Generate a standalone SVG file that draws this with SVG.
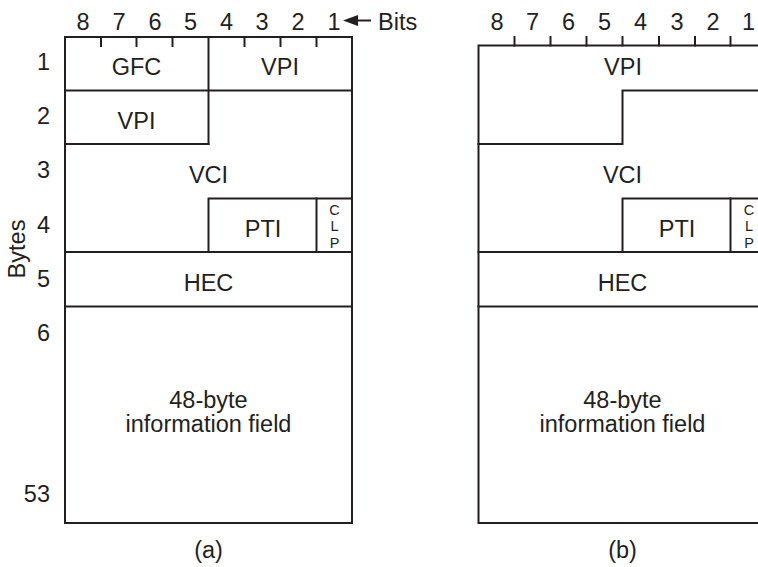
<svg xmlns="http://www.w3.org/2000/svg" width="758" height="567" viewBox="0 0 758 567">
<style>
  .ln { stroke: #231f20; stroke-width: 2; fill: none; stroke-linecap: square; }
  .t { font-family: "Liberation Sans", Arial, sans-serif; font-size: 23.5px; fill: #231f20; text-anchor: middle; }
  .r { font-family: "Liberation Sans", Arial, sans-serif; font-size: 23.5px; fill: #231f20; text-anchor: end; }
  .s { font-family: "Liberation Sans", Arial, sans-serif; font-size: 14.5px; fill: #231f20; text-anchor: middle; }
</style>
<rect width="758" height="567" fill="#ffffff"/>

<!-- Axis labels -->
<g id="bit-numbers-a">
  <text class="t" x="83" y="30">8</text>
  <text class="t" x="119" y="30">7</text>
  <text class="t" x="155" y="30">6</text>
  <text class="t" x="190.5" y="30">5</text>
  <text class="t" x="226.5" y="30">4</text>
  <text class="t" x="262" y="30">3</text>
  <text class="t" x="298" y="30">2</text>
  <text class="t" x="334" y="30">1</text>
</g>
<g id="bits-label">
  <line class="ln" x1="355" y1="20.5" x2="370" y2="20.5"/>
  <polygon points="343,20.5 358,15 358,26" fill="#231f20"/>
  <text x="378" y="30" style="font-family:'Liberation Sans',Arial,sans-serif;font-size:23.5px;fill:#231f20">Bits</text>
</g>
<g id="byte-numbers">
  <text class="r" x="50" y="70">1</text>
  <text class="r" x="50" y="124">2</text>
  <text class="r" x="50" y="178">3</text>
  <text class="r" x="50" y="233">4</text>
  <text class="r" x="50" y="287">5</text>
  <text class="r" x="50" y="341">6</text>
  <text class="r" x="50" y="502">53</text>
  <text class="t" transform="translate(25,249) rotate(-90)">Bytes</text>
</g>

<!-- Diagram (a) -->
<g id="cell-a">
  <rect class="ln" x="65" y="37" width="287" height="486"/>
  <g id="ticks-a">
    <line class="ln" x1="101" y1="37" x2="101" y2="46"/>
    <line class="ln" x1="136.5" y1="37" x2="136.5" y2="46"/>
    <line class="ln" x1="172.5" y1="37" x2="172.5" y2="46"/>
    <line class="ln" x1="244.5" y1="37" x2="244.5" y2="46"/>
    <line class="ln" x1="280.5" y1="37" x2="280.5" y2="46"/>
    <line class="ln" x1="316.5" y1="37" x2="316.5" y2="46"/>
  </g>
  <g id="a-gfc">
    <line class="ln" x1="208.5" y1="37" x2="208.5" y2="144"/>
    <line class="ln" x1="65" y1="90.5" x2="352" y2="90.5"/>
    <text class="t" x="136.5" y="75">GFC</text>
  </g>
  <g id="a-vpi1"><text class="t" x="280" y="75">VPI</text></g>
  <g id="a-vpi2">
    <line class="ln" x1="65" y1="144" x2="208.5" y2="144"/>
    <text class="t" x="136.5" y="129">VPI</text>
  </g>
  <g id="a-vci"><text class="t" x="208.5" y="183">VCI</text></g>
  <g id="a-pti">
    <polyline class="ln" points="208.5,252 208.5,198.5 352,198.5"/>
    <text class="t" x="263" y="237">PTI</text>
  </g>
  <g id="a-clp">
    <line class="ln" x1="316.5" y1="198.5" x2="316.5" y2="252"/>
    <text class="s"><tspan x="334.5" y="214.5">C</tspan><tspan x="334.5" y="231">L</tspan><tspan x="334.5" y="247.5">P</tspan></text>
  </g>
  <g id="a-hec">
    <line class="ln" x1="65" y1="252" x2="352" y2="252"/>
    <line class="ln" x1="65" y1="306.5" x2="352" y2="306.5"/>
    <text class="t" x="208.5" y="291">HEC</text>
  </g>
  <g id="a-info">
    <text class="t" x="208.5" y="408">48-byte</text>
    <text class="t" x="208.5" y="432">information field</text>
  </g>
  <text class="t" x="208.5" y="558">(a)</text>
</g>

<!-- Diagram (b) -->
<g id="bit-numbers-b">
  <text class="t" x="497" y="30">8</text>
  <text class="t" x="532.5" y="30">7</text>
  <text class="t" x="568.5" y="30">6</text>
  <text class="t" x="604.5" y="30">5</text>
  <text class="t" x="640.5" y="30">4</text>
  <text class="t" x="677" y="30">3</text>
  <text class="t" x="713" y="30">2</text>
  <text class="t" x="748.5" y="30">1</text>
</g>
<g id="cell-b">
  <rect class="ln" x="478.5" y="45.5" width="288" height="477.5"/>
  <g id="ticks-b">
    <line class="ln" x1="514.5" y1="37" x2="514.5" y2="45.5"/>
    <line class="ln" x1="550.5" y1="37" x2="550.5" y2="45.5"/>
    <line class="ln" x1="586.5" y1="37" x2="586.5" y2="45.5"/>
    <line class="ln" x1="622.5" y1="37" x2="622.5" y2="45.5"/>
    <line class="ln" x1="659" y1="37" x2="659" y2="45.5"/>
    <line class="ln" x1="695" y1="37" x2="695" y2="45.5"/>
    <line class="ln" x1="730.5" y1="37" x2="730.5" y2="45.5"/>
  </g>
  <g id="b-vpi">
    <polyline class="ln" points="766,90.5 622.5,90.5 622.5,144 478.5,144"/>
    <text class="t" x="623" y="75">VPI</text>
  </g>
  <g id="b-vci"><text class="t" x="622.5" y="183">VCI</text></g>
  <g id="b-pti">
    <polyline class="ln" points="622.5,252 622.5,198.5 766,198.5"/>
    <text class="t" x="677" y="237">PTI</text>
  </g>
  <g id="b-clp">
    <line class="ln" x1="730.5" y1="198.5" x2="730.5" y2="252"/>
    <text class="s"><tspan x="749" y="214.5">C</tspan><tspan x="749" y="231">L</tspan><tspan x="749" y="247.5">P</tspan></text>
  </g>
  <g id="b-hec">
    <line class="ln" x1="478.5" y1="252" x2="766" y2="252"/>
    <line class="ln" x1="478.5" y1="306.5" x2="766" y2="306.5"/>
    <text class="t" x="622.5" y="291">HEC</text>
  </g>
  <g id="b-info">
    <text class="t" x="622.5" y="408">48-byte</text>
    <text class="t" x="622.5" y="432">information field</text>
  </g>
  <text class="t" x="622.5" y="558">(b)</text>
</g>
<g id="connectors"/>
</svg>
